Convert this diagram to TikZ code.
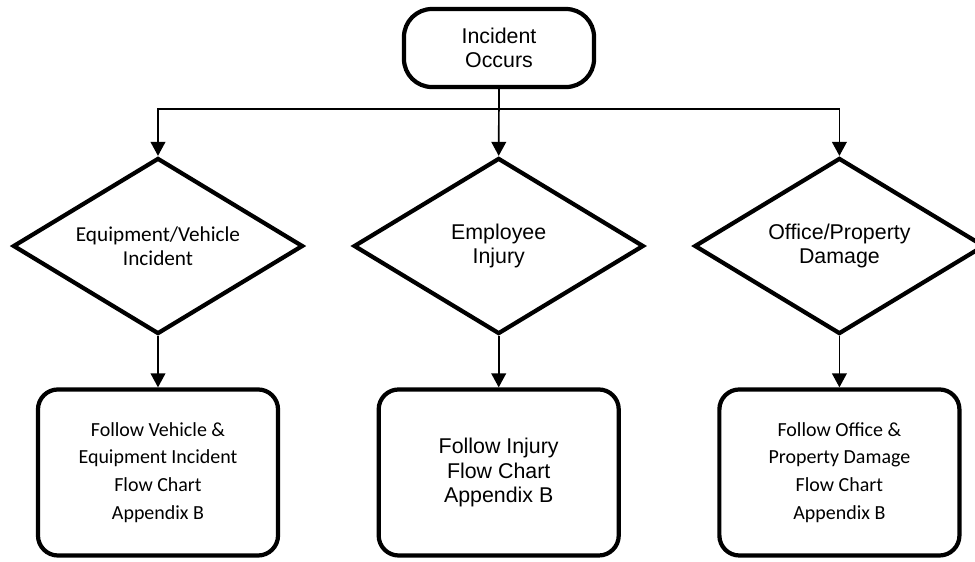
\documentclass[tikz,border=0pt]{standalone}
\usepackage{fontspec}
\setmainfont{Liberation Sans}
\newfontfamily\calibri{Carlito}
\usepackage{tikz}
\usetikzlibrary{positioning, shapes.geometric, arrows.meta}

\begin{document}
\begin{tikzpicture}[
  x=0.025cm, y=-0.025cm,
  node distance=1.28cm and 1.16cm,
  font=\fontsize{15.2}{17.4}\selectfont,
  terminal/.style={draw, line width=3pt, rounded corners=0.7cm, minimum width=4.75cm, minimum height=1.95cm, align=center, inner sep=0pt},
  decision/.style={draw, diamond, aspect=1.65, line width=3pt, minimum width=7.25cm, minimum height=4.4cm, align=center, inner sep=0pt},
  action/.style={draw, line width=3pt, rounded corners=0.5cm, minimum width=6cm, minimum height=4.15cm, align=center, inner sep=0pt},
  calib/.style={font=\calibri\fontsize{15.1}{17}\selectfont},
  calibwide/.style={font=\calibri\fontsize{14.2}{19.8}\selectfont},
  flow/.style={-{Triangle[width=10.5pt,length=10pt]}, line width=1.2pt}
]
\useasboundingbox (0,0) rectangle (975,561);

\node[terminal] (start) at (499,48) {Incident\\Occurs};
\node[decision, calib] (equip) at (158,246) {Equipment/Vehicle\\Incident};
\node[decision, right=of equip] (injury) {Employee\\Injury};
\node[decision, right=of injury] (office) {Office/Property\\Damage};

\node[action, calibwide, below=of equip] (vehflow) {Follow Vehicle \&\\Equipment Incident\\Flow Chart\\Appendix B};
\node[action, below=of injury] (injflow) {Follow Injury\\Flow Chart\\Appendix B};
\node[action, calibwide, below=of office] (propflow) {Follow Office \&\\Property Damage\\Flow Chart\\Appendix B};

\draw[flow] (start.south) -- ++(0,20) -| (equip.north);
\draw[flow] (start.south) -- ++(0,20) -| (office.north);
\draw[flow] (start.south) -- (injury.north);
\draw[flow] (equip) -- (vehflow);
\draw[flow] (injury) -- (injflow);
\draw[flow] (office) -- (propflow);
\end{tikzpicture}
\end{document}
